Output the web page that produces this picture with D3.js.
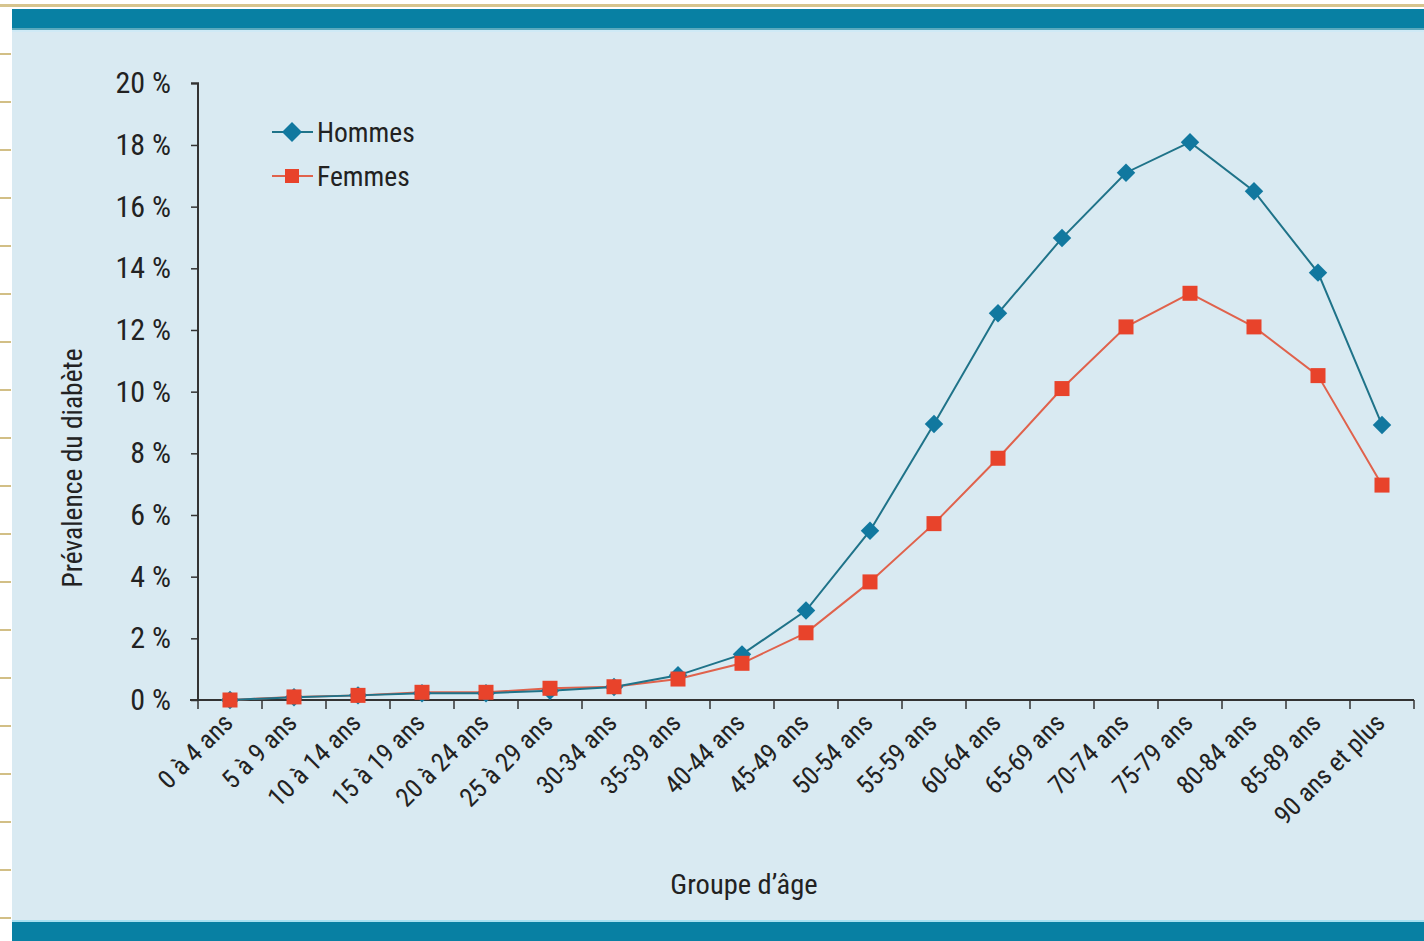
<!DOCTYPE html>
<html><head><meta charset="utf-8">
<script src="https://cdn.jsdelivr.net/npm/d3@7"></script>
<style>
html,body{margin:0;padding:0;background:#fff;}
svg{display:block;}
text{font-family:"Liberation Sans Narrow","Roboto Condensed","Open Sans",sans-serif;fill:#222;}
</style></head>
<body>
<script>
const categories = ["0 à 4 ans","5 à 9 ans","10 à 14 ans","15 à 19 ans","20 à 24 ans","25 à 29 ans","30-34 ans","35-39 ans","40-44 ans","45-49 ans","50-54 ans","55-59 ans","60-64 ans","65-69 ans","70-74 ans","75-79 ans","80-84 ans","85-89 ans","90 ans et plus"];
const hommes = [0.0,0.09,0.15,0.22,0.22,0.3,0.42,0.8,1.48,2.9,5.49,8.95,12.54,14.98,17.1,18.09,16.5,13.86,8.92];
const femmes = [0.0,0.1,0.15,0.25,0.25,0.38,0.43,0.68,1.19,2.18,3.83,5.72,7.84,10.1,12.1,13.19,12.1,10.52,6.97];
const yTicks = [0,2,4,6,8,10,12,14,16,18,20];
const seriesNames = ["Hommes","Femmes"];

const W = 1424, H = 941;
const svg = d3.select("body").append("svg").attr("width", W).attr("height", H);
const FONT = '"Liberation Sans Narrow","Roboto Condensed",sans-serif';

// page decoration
svg.append("rect").attr("x",0).attr("y",0).attr("width",W).attr("height",H).attr("fill","#fff");
svg.append("rect").attr("x",0).attr("y",4).attr("width",W).attr("height",3).attr("fill","#d6c48e");
const goldMarks = d3.range(53, 941, 48);
svg.selectAll("rect.gm").data(goldMarks).enter().append("rect")
  .attr("x",0).attr("y",d=>d).attr("width",11).attr("height",2).attr("fill","#d2bf86");
svg.append("rect").attr("x",12).attr("y",9).attr("width",W-12).attr("height",H-9).attr("fill","#d9eaf2");
svg.append("rect").attr("x",12).attr("y",9).attr("width",W-12).attr("height",20).attr("fill","#0880a3");
svg.append("rect").attr("x",12).attr("y",28).attr("width",W-12).attr("height",2).attr("fill","#5aa9bd");
svg.append("rect").attr("x",12).attr("y",30).attr("width",W-12).attr("height",2).attr("fill","#cfeaf6");
svg.append("rect").attr("x",12).attr("y",920).attr("width",W-12).attr("height",2).attr("fill","#a8e0f0");
svg.append("rect").attr("x",12).attr("y",922).attr("width",W-12).attr("height",19).attr("fill","#0880a3");

const x0 = 198, x1 = 1414, yTop = 83.3, yBot = 700;
const x = d3.scaleBand().domain(categories).range([x0, x1]).padding(0);
const y = d3.scaleLinear().domain([0,20]).range([yBot, yTop]);
const cx = d => x(d) + x.bandwidth()/2;

// y axis
const yAxis = d3.axisLeft(y).tickValues(yTicks).tickSize(7).tickPadding(20).tickFormat(d => d + " %");
const gy = svg.append("g").attr("transform",`translate(${x0},0)`).call(yAxis);
gy.select(".domain").attr("stroke","#333").attr("stroke-width",2).attr("d",`M-7,${yTop}H0V${yBot}`);
gy.selectAll(".tick line").attr("stroke","#333").attr("stroke-width",1.5);
gy.selectAll(".tick text").attr("font-size",30).attr("fill","#222").style("font-family",FONT);

// x axis
const xAxis = d3.axisBottom(x).tickSize(0).tickPadding(0);
const gx = svg.append("g").attr("transform",`translate(0,${yBot})`).call(xAxis);
gx.select(".domain").attr("stroke","#333").attr("stroke-width",2).attr("d",`M${x0-8},0H${x1}`);
gx.selectAll(".tick text").attr("font-size",26).attr("fill","#222")
  .attr("text-anchor","end").attr("dy","0.35em")
  .attr("transform","translate(-2,18) rotate(-45)")
  .style("font-family",FONT);
// boundary ticks
const bounds = categories.map(c => x(c)).concat([x1]);
gx.selectAll("line.bt").data(bounds).enter().append("line")
  .attr("x1",d=>d).attr("x2",d=>d).attr("y1",0).attr("y2",9)
  .attr("stroke","#333").attr("stroke-width",1.5);

// lines
const line = d3.line().x((d,i)=>cx(categories[i])).y(d=>y(d));
svg.append("path").datum(femmes).attr("d",line).attr("fill","none").attr("stroke","#e0624c").attr("stroke-width",2);
svg.append("path").datum(hommes).attr("d",line).attr("fill","none").attr("stroke","#1f7389").attr("stroke-width",2);

// markers
svg.selectAll("path.dh").data(hommes).enter().append("path")
  .attr("d", d3.symbol().type(d3.symbolSquare).size(170))
  .attr("transform",(d,i)=>`translate(${cx(categories[i])},${y(d)}) rotate(45)`)
  .attr("fill","#11789f");
svg.selectAll("rect.sf").data(femmes).enter().append("rect")
  .attr("x",(d,i)=>cx(categories[i])-7.5).attr("y",d=>y(d)-7.5)
  .attr("width",15).attr("height",15).attr("fill","#e8432b");

// legend
const legY = [132, 176];
const lg = svg.append("g");
lg.append("line").attr("x1",272).attr("x2",313).attr("y1",legY[0]).attr("y2",legY[0]).attr("stroke","#1f7389").attr("stroke-width",2);
lg.append("path").attr("d",d3.symbol().type(d3.symbolSquare).size(200)).attr("transform",`translate(292,${legY[0]}) rotate(45)`).attr("fill","#11789f");
lg.append("line").attr("x1",272).attr("x2",313).attr("y1",legY[1]).attr("y2",legY[1]).attr("stroke","#e0624c").attr("stroke-width",2);
lg.append("rect").attr("x",285).attr("y",legY[1]-7).attr("width",14).attr("height",14).attr("fill","#e8432b");
lg.selectAll("text").data(seriesNames).enter().append("text")
  .attr("x",317).attr("y",(d,i)=>legY[i]).attr("dy","0.35em").attr("font-size",27.5).text(d=>d);

// axis titles
svg.append("text").attr("transform","translate(82,468) rotate(-90)").attr("text-anchor","middle")
  .attr("font-size",27.5).text("Prévalence du diabète");
svg.append("text").attr("x",744).attr("y",894).attr("text-anchor","middle").attr("font-size",28.5).text("Groupe d’âge");
</script>
</body></html>
